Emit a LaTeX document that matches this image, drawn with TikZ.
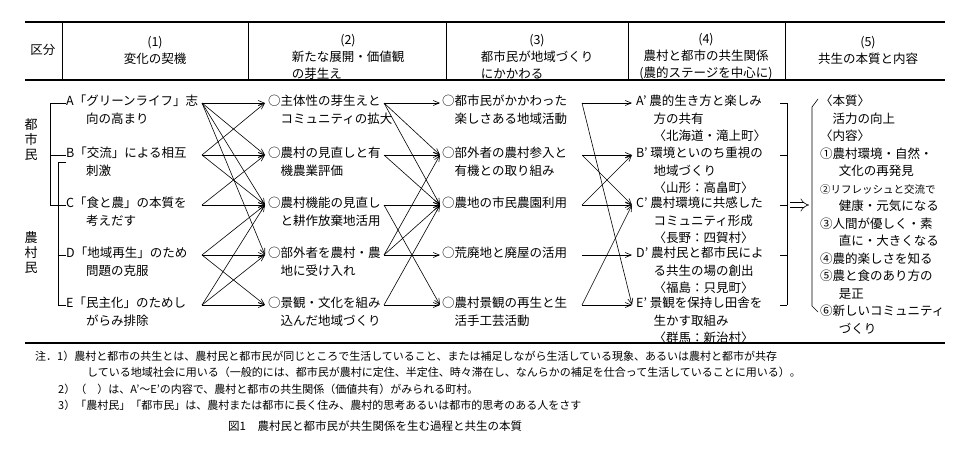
\documentclass[tikz,border=0pt]{standalone}
\usepackage{fontspec}
\setmainfont{Noto Sans CJK JP}
\usetikzlibrary{arrows.meta}
\begin{document}
\begin{tikzpicture}[x=1pt,y=-1pt,
  txt/.style={anchor=north west,inner sep=0pt,align=left,font=\fontsize{12.5}{17.5}\selectfont},
  hd/.style={inner sep=0pt,align=center,font=\fontsize{12.5}{17}\selectfont},
  note/.style={anchor=west,inner sep=0pt,font=\fontsize{11}{12}\selectfont},
  arr/.style={-{Straight Barb[length=6pt,width=5pt]},line width=0.6pt},
  rule/.style={line width=1.3pt},
  thin/.style={line width=0.6pt}]
\useasboundingbox (0,0) rectangle (956,458);
% header
\draw[rule] (25,22) -- (945,22);
\draw[rule] (25,80) -- (945,80);
\foreach \x in {62,248,446,628,785}{\draw[thin] (\x,22) -- (\x,80);}
\node[hd] (h0) at (43,50) {区分};
\node[hd] (h1) at (155,50) {(1)\\変化の契機};
\node[hd] (h2) at (348,57) {(2)\\新たな展開・価値観\\\makebox[9em][l]{の芽生え}};
\node[hd] (h3) at (537,57) {(3)\\都市民が地域づくり\\\makebox[9em][l]{にかかわる}};
\node[hd] (h4) at (706,57) {(4)\\農村と都市の共生関係\\(農的ステージを中心に)};
\node[hd] (h5) at (868,50) {(5)\\共生の本質と内容};
\draw[rule] (25,343) -- (945,343);
% left labels
\node[hd,align=center,font=\fontsize{13}{15}\selectfont] (tm) at (31,140) {都\\市\\民};
\node[hd,align=center,font=\fontsize{13}{15}\selectfont] (nm) at (31,253) {農\\村\\民};
\draw[thin] (66,103) -- (50,103) -- (50,205) -- (66,205);
\draw[thin] (50,155) -- (66,155);
\draw[thin] (66,162) -- (58,162) -- (58,305) -- (66,305);
\draw[thin] (58,255) -- (66,255);
% column 1
\node[txt] (a1) at (66,95) {A「グリーンライフ」志\\\hspace*{1.6em}向の高まり};
\node[txt] (a2) at (66,147) {B「交流」による相互\\\hspace*{1.6em}刺激};
\node[txt] (a3) at (66,197) {C「食と農」の本質を\\\hspace*{1.6em}考えだす};
\node[txt] (a4) at (66,247) {D「地域再生」のため\\\hspace*{1.6em}問題の克服};
\node[txt] (a5) at (66,297) {E「民主化」のためし\\\hspace*{1.6em}がらみ排除};
% column 2
\node[txt] (b1) at (268,95) {○主体性の芽生えと\\\hspace*{1em}コミュニティの拡大};
\node[txt] (b2) at (268,147) {○農村の見直しと有\\\hspace*{1em}機農業評価};
\node[txt] (b3) at (268,197) {○農村機能の見直し\\\hspace*{1em}と耕作放棄地活用};
\node[txt] (b4) at (268,247) {○部外者を農村・農\\\hspace*{1em}地に受け入れ};
\node[txt] (b5) at (268,297) {○景観・文化を組み\\\hspace*{1em}込んだ地域づくり};
% column 3
\node[txt] (c1) at (442,95) {○都市民がかかわった\\\hspace*{1em}楽しさある地域活動};
\node[txt] (c2) at (442,147) {○部外者の農村参入と\\\hspace*{1em}有機との取り組み};
\node[txt] (c3) at (442,197) {○農地の市民農園利用};
\node[txt] (c4) at (442,247) {○荒廃地と廃屋の活用};
\node[txt] (c5) at (442,297) {○農村景観の再生と生\\\hspace*{1em}活手工芸活動};
% column 4
\node[txt] (d1) at (636,95) {A' 農的生き方と楽しみ\\\hspace*{1.4em}方の共有\\\hspace*{1.4em}〈北海道・滝上町〉};
\node[txt] (d2) at (636,147) {B' 環境といのち重視の\\\hspace*{1.4em}地域づくり\\\hspace*{1.4em}〈山形：高畠町〉};
\node[txt] (d3) at (636,197) {C' 農村環境に共感した\\\hspace*{1.4em}コミュニティ形成\\\hspace*{1.4em}〈長野：四賀村〉};
\node[txt] (d4) at (636,247) {D' 農村民と都市民によ\\\hspace*{1.4em}る共生の場の創出\\\hspace*{1.4em}〈福島：只見町〉};
\node[txt] (d5) at (636,297) {E' 景観を保持し田舎を\\\hspace*{1.4em}生かす取組み\\\hspace*{1.4em}〈群馬：新治村〉};
% column 5
\node[txt] (e1) at (820,95) {〈本質〉\\\hspace*{1em}活力の向上\\〈内容〉\\①農村環境・自然・\\\hspace*{1.5em}文化の再発見\\{\fontsize{10.5}{17.5}\selectfont ②リフレッシュと交流で}\\\hspace*{1.5em}健康・元気になる\\③人間が優しく・素\\\hspace*{1.5em}直に・大きくなる\\④農的楽しさを知る\\⑤農と食のあり方の\\\hspace*{1.5em}是正\\⑥新しいコミュニティ\\\hspace*{1.5em}づくり};
% connection points
\foreach \i/\y in {1/103,2/155,3/205,4/255,5/305}{
  \coordinate (ao\i) at (202,\y);
  \coordinate (bi\i) at (265,\y);
  \coordinate (bo\i) at (384,\y);
  \coordinate (ci\i) at (440,\y);
  \coordinate (co\i) at (582,\y);
  \coordinate (di\i) at (632,\y);
  \coordinate (dt\i) at (780,\y);
  \coordinate (vb\i) at (787,\y);
}
\foreach \s/\t in {1/1,1/2,1/3,1/4,2/1,2/2,2/3,3/2,3/3,4/3,4/4,4/5,5/3,5/4,5/5}{\draw[arr] (ao\s) -- (bi\t);}
\foreach \s/\t in {1/1,1/2,1/3,2/2,2/3,3/3,3/5,4/2,4/3,4/4,5/3,5/5}{\draw[arr] (bo\s) -- (ci\t);}
\foreach \s/\t in {1/1,1/5,2/2,2/3,3/2,3/3,4/4,5/5,5/3}{\draw[arr] (co\s) -- (di\t);}
% right bracket
\foreach \i in {1,...,5}{\draw[thin] (dt\i) -- (vb\i);}
\draw[thin] (vb1) -- (vb5);
\coordinate (da) at (790,205);
\coordinate (db) at (809,205);
\draw[-{Implies[length=5pt]},double,double distance=4pt,line width=0.6pt] (da) -- (db);
\draw[thin] (818,99) -- (812,107) -- (812,306) -- (818,312);
% notes
\node[note] (n1) at (35,356) {注．1）農村と都市の共生とは、農村民と都市民が同じところで生活していること、または補足しながら生活している現象、あるいは農村と都市が共存};
\node[note] (n1b) at (87,372) {している地域社会に用いる（一般的には、都市民が農村に定住、半定住、時々滞在し、なんらかの補足を仕合って生活していることに用いる）。};
\node[note] (n2) at (58,389) {2）（　）は、A'〜E'の内容で、農村と都市の共生関係（価値共有）がみられる町村。};
\node[note] (n3) at (58,405) {3）「農村民」「都市民」は、農村または都市に長く住み、農村的思考あるいは都市的思考のある人をさす};
\node[note,font=\fontsize{11.5}{12}\selectfont] (cap) at (228,426) {図1　農村民と都市民が共生関係を生む過程と共生の本質};
\end{tikzpicture}
\end{document}
